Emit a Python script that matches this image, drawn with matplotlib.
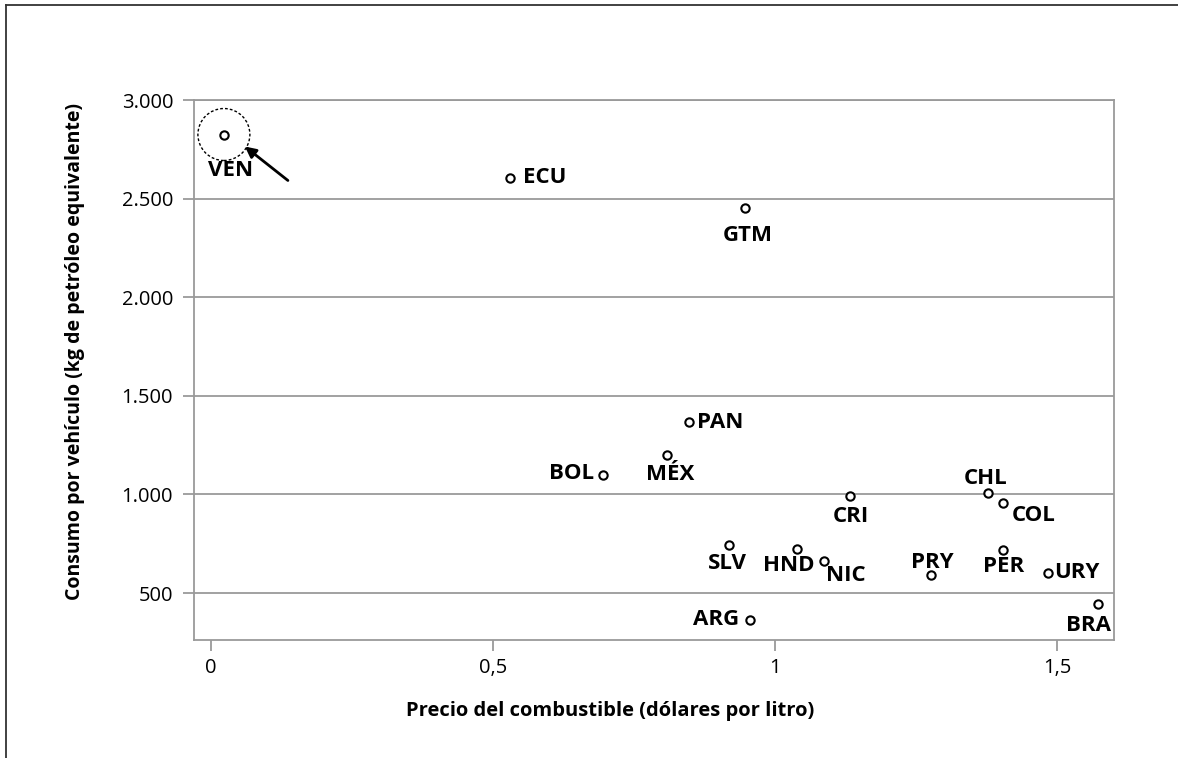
import matplotlib
matplotlib.use("Agg")
import matplotlib.pyplot as plt
from matplotlib.lines import Line2D
from matplotlib.patches import Ellipse
from matplotlib.ticker import FuncFormatter

plt.rcParams['font.family'] = ['Open Sans', 'DejaVu Sans']

countries = ["VEN", "ECU", "GTM", "PAN", "MÉX", "BOL", "CRI", "CHL", "COL",
             "SLV", "HND", "NIC", "PRY", "PER", "URY", "BRA", "ARG"]
precio = [0.023, 0.530, 0.947, 0.848, 0.809, 0.695, 1.133, 1.378, 1.404,
          0.918, 1.039, 1.087, 1.277, 1.404, 1.484, 1.573, 0.956]
consumo = [2825, 2605, 2453, 1365, 1200, 1100, 990, 1007, 958,
           745, 725, 665, 592, 720, 602, 445, 365]

# label offsets in pixels (dx, dy) and alignment
offsets = {
    "VEN": (7, -36, "center", "center"),
    "ECU": (13, 0, "left", "center"),
    "GTM": (3, -28, "center", "center"),
    "PAN": (8, 0, "left", "center"),
    "MÉX": (3, -19, "center", "center"),
    "BOL": (-9, 1, "right", "center"),
    "CRI": (1, -20, "center", "center"),
    "CHL": (-3, 15, "center", "center"),
    "COL": (9, -13, "left", "center"),
    "SLV": (-1, -19, "center", "center"),
    "HND": (-8, -17, "center", "center"),
    "NIC": (2, -15, "left", "center"),
    "PRY": (1, 12, "center", "center"),
    "PER": (1, -17, "center", "center"),
    "URY": (6, 0, "left", "center"),
    "BRA": (-10, -22, "center", "center"),
    "ARG": (-11, 0, "right", "center"),
}

W, H = 1178, 758
fig = plt.figure(figsize=(W / 100, H / 100), dpi=100)
ax = fig.add_axes([194 / W, 1 - 640 / H, (1114 - 194) / W, (640 - 100) / H])

gray = "#9a9a9a"
ax.set_xlim(-0.03, 1.601)
ax.set_ylim(262, 3000)
ax.set_yticks([500, 1000, 1500, 2000, 2500, 3000])
ax.set_xticks([0, 0.5, 1, 1.5])
ax.yaxis.set_major_formatter(FuncFormatter(lambda v, p: f"{int(v):,}".replace(",", ".")))
ax.xaxis.set_major_formatter(FuncFormatter(lambda v, p: ("%g" % v).replace(".", ",")))
ax.grid(axis="y", color=gray, linewidth=1.3)
ax.set_axisbelow(True)
for s in ax.spines.values():
    s.set_color(gray)
    s.set_linewidth(1.3)
ax.tick_params(axis="y", length=8, color=gray, width=1.3, labelsize=14.5, pad=7)
ax.tick_params(axis="x", length=8, color=gray, width=1.3, labelsize=14.5, pad=5)

ax.plot(precio, consumo, linestyle="none", marker="o", markersize=6,
        markerfacecolor="white", markeredgecolor="black", markeredgewidth=1.5, zorder=3)

for c, x, y in zip(countries, precio, consumo):
    dx, dy, ha, va = offsets[c]
    ax.annotate(c, (x, y), xytext=(dx, dy), textcoords="offset pixels",
                ha=ha, va=va, fontsize=16, fontweight="bold", color="black")

# dashed circle around VEN with arrow
ven_x, ven_y = precio[0], consumo[0]
circ = Ellipse((ven_x, ven_y), width=52 / 564, height=52 / 98.7 * 500, fill=False,
               linestyle=(0, (2, 1.5)), edgecolor="black", linewidth=1.0, zorder=2)
ax.add_patch(circ)
ax.annotate("", xy=(ven_x + 21 / 564, ven_y - 12 / 98.7 * 500),
            xytext=(ven_x + 64 / 564, ven_y - 46 / 98.7 * 500),
            arrowprops=dict(arrowstyle="-|>", color="black", lw=2, mutation_scale=16,
                            shrinkA=0, shrinkB=0))

fig.text(75 / W, 1 - 352 / H, "Consumo por vehículo (kg de petróleo equivalente)",
         rotation=90, ha="center", va="center", fontsize=14, fontweight="bold")
fig.text(610 / W, 1 - 711 / H, "Precio del combustible (dólares por litro)",
         ha="center", va="center", fontsize=14.5, fontweight="bold")

# outer frame (top and left)
fig.add_artist(Line2D([6 / W, 1], [1 - 5 / H, 1 - 5 / H], transform=fig.transFigure,
                      color="#333333", linewidth=1.3))
fig.add_artist(Line2D([6 / W, 6 / W], [1 - 5 / H, 0], transform=fig.transFigure,
                      color="#333333", linewidth=1.3))

fig.savefig("out.png", dpi=100)
